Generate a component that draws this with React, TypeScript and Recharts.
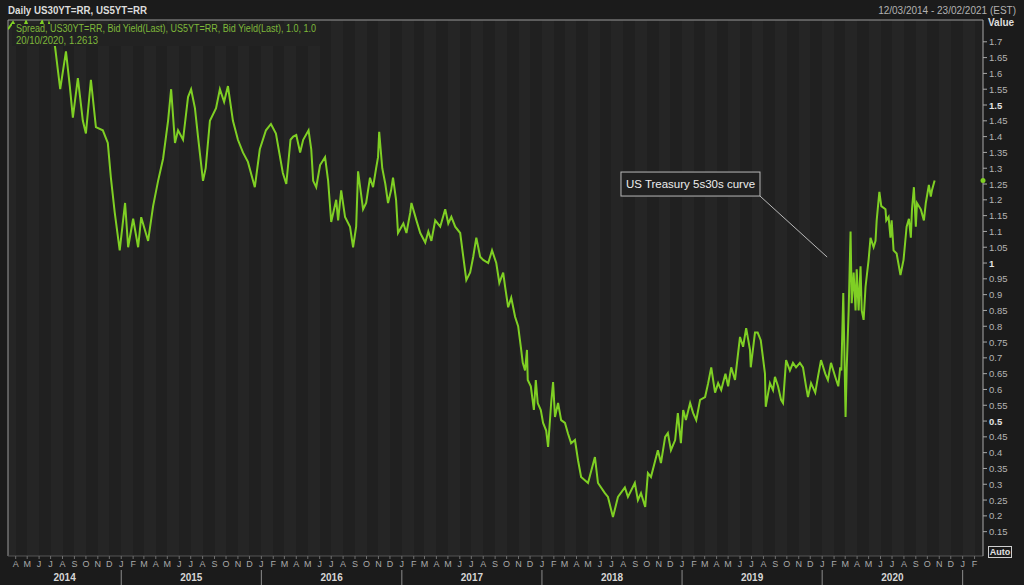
import { CartesianGrid, Line, LineChart, ReferenceDot, ReferenceLine, XAxis, YAxis } from 'recharts';

// US 30y - 5y spread (Bid Yield, Last)
const spread2014: [string, number][] = [
  ['2014-03-12', 1.74], ['2014-03-25', 1.762], ['2014-04-13', 1.72], ['2014-04-28', 1.764],
  ['2014-05-17', 1.71], ['2014-06-09', 1.765], ['2014-06-19', 1.72], ['2014-06-27', 1.758],
  ['2014-07-08', 1.72], ['2014-07-13', 1.68], ['2014-07-26', 1.55], ['2014-08-10', 1.67],
  ['2014-08-20', 1.56], ['2014-08-28', 1.46], ['2014-09-10', 1.585], ['2014-09-23', 1.45],
  ['2014-10-01', 1.41], ['2014-10-14', 1.58], ['2014-10-27', 1.43], ['2014-11-14', 1.42],
  ['2014-11-27', 1.38], ['2014-12-05', 1.27], ['2014-12-15', 1.16], ['2014-12-28', 1.04]
];

const spread2015: [string, number][] = [
  ['2015-01-11', 1.19], ['2015-01-19', 1.05], ['2015-02-01', 1.14], ['2015-02-14', 1.05],
  ['2015-02-22', 1.145], ['2015-03-12', 1.07], ['2015-03-25', 1.18], ['2015-04-07', 1.26],
  ['2015-04-20', 1.33], ['2015-05-03', 1.45], ['2015-05-11', 1.55], ['2015-05-21', 1.38],
  ['2015-05-29', 1.42], ['2015-06-11', 1.39], ['2015-06-24', 1.525], ['2015-07-02', 1.55],
  ['2015-07-12', 1.49], ['2015-07-20', 1.4], ['2015-08-02', 1.26], ['2015-08-09', 1.3],
  ['2015-08-20', 1.45], ['2015-09-05', 1.49], ['2015-09-15', 1.55], ['2015-09-26', 1.51],
  ['2015-10-06', 1.56], ['2015-10-19', 1.45], ['2015-11-01', 1.39], ['2015-11-14', 1.35],
  ['2015-11-27', 1.32], ['2015-12-15', 1.24], ['2015-12-28', 1.36]
];

const spread2016: [string, number][] = [
  ['2016-01-13', 1.42], ['2016-01-26', 1.44], ['2016-02-08', 1.41], ['2016-02-26', 1.285],
  ['2016-03-06', 1.25], ['2016-03-17', 1.39], ['2016-03-24', 1.4], ['2016-04-01', 1.405],
  ['2016-04-11', 1.35], ['2016-04-19', 1.39], ['2016-05-03', 1.42], ['2016-05-10', 1.36],
  ['2016-05-15', 1.26], ['2016-05-23', 1.24], ['2016-06-02', 1.31], ['2016-06-15', 1.335],
  ['2016-06-23', 1.26], ['2016-07-01', 1.13], ['2016-07-14', 1.2], ['2016-07-19', 1.135],
  ['2016-07-27', 1.23], ['2016-08-06', 1.146], ['2016-08-19', 1.115], ['2016-08-27', 1.05],
  ['2016-09-04', 1.115], ['2016-09-09', 1.29], ['2016-09-22', 1.17], ['2016-09-30', 1.19],
  ['2016-10-10', 1.27], ['2016-10-18', 1.24], ['2016-10-26', 1.3], ['2016-10-31', 1.335],
  ['2016-11-03', 1.415], ['2016-11-11', 1.3], ['2016-11-19', 1.25], ['2016-11-26', 1.19],
  ['2016-12-04', 1.23], ['2016-12-09', 1.27], ['2016-12-17', 1.2], ['2016-12-22', 1.095]
];

const spread2017: [string, number][] = [
  ['2017-01-05', 1.125], ['2017-01-13', 1.095], ['2017-01-23', 1.16], ['2017-01-26', 1.19],
  ['2017-02-08', 1.135], ['2017-02-18', 1.095], ['2017-03-03', 1.065], ['2017-03-11', 1.1],
  ['2017-03-19', 1.07], ['2017-03-29', 1.135], ['2017-04-11', 1.115], ['2017-04-24', 1.17],
  ['2017-05-02', 1.125], ['2017-05-10', 1.146], ['2017-05-20', 1.115], ['2017-06-02', 1.095],
  ['2017-06-10', 1.02], ['2017-06-18', 0.946], ['2017-06-28', 0.97], ['2017-07-06', 1.02],
  ['2017-07-14', 1.08], ['2017-07-24', 1.02], ['2017-08-01', 1.01], ['2017-08-14', 1.0],
  ['2017-08-24', 1.04], ['2017-09-04', 1.0], ['2017-09-12', 0.937], ['2017-09-22', 0.97],
  ['2017-09-27', 0.925], ['2017-10-05', 0.86], ['2017-10-13', 0.89], ['2017-10-23', 0.83],
  ['2017-10-31', 0.8], ['2017-11-07', 0.735], ['2017-11-12', 0.684], ['2017-11-18', 0.66],
  ['2017-11-23', 0.725], ['2017-11-25', 0.63], ['2017-12-03', 0.61], ['2017-12-11', 0.535],
  ['2017-12-16', 0.63], ['2017-12-21', 0.557], ['2017-12-29', 0.535]
];

const spread2018: [string, number][] = [
  ['2018-01-04', 0.494], ['2018-01-12', 0.47], ['2018-01-17', 0.418], ['2018-01-25', 0.557],
  ['2018-01-30', 0.623], ['2018-02-04', 0.513], ['2018-02-12', 0.557], ['2018-02-20', 0.503],
  ['2018-03-02', 0.494], ['2018-03-10', 0.46], ['2018-03-18', 0.43], ['2018-03-28', 0.44],
  ['2018-04-05', 0.376], ['2018-04-13', 0.323], ['2018-05-01', 0.304], ['2018-05-19', 0.386],
  ['2018-05-27', 0.304], ['2018-06-14', 0.272], ['2018-06-22', 0.26], ['2018-07-05', 0.196],
  ['2018-07-18', 0.26], ['2018-08-05', 0.29], ['2018-08-13', 0.26], ['2018-08-31', 0.304],
  ['2018-09-08', 0.25], ['2018-09-16', 0.272], ['2018-09-27', 0.228], ['2018-10-04', 0.335],
  ['2018-10-12', 0.323], ['2018-10-30', 0.408], ['2018-11-07', 0.367], ['2018-11-18', 0.45],
  ['2018-11-25', 0.462], ['2018-12-03', 0.408], ['2018-12-14', 0.44], ['2018-12-21', 0.525],
  ['2018-12-29', 0.43]
];

const spread2019: [string, number][] = [
  ['2019-01-04', 0.535], ['2019-01-11', 0.503], ['2019-01-22', 0.557], ['2019-01-30', 0.525],
  ['2019-02-07', 0.503], ['2019-02-17', 0.567], ['2019-03-02', 0.576], ['2019-03-10', 0.62],
  ['2019-03-18', 0.67], ['2019-03-28', 0.59], ['2019-04-05', 0.62], ['2019-04-13', 0.598],
  ['2019-04-24', 0.65], ['2019-05-01', 0.61], ['2019-05-09', 0.67], ['2019-05-19', 0.63],
  ['2019-05-27', 0.715], ['2019-06-01', 0.766], ['2019-06-09', 0.735], ['2019-06-17', 0.794],
  ['2019-06-27', 0.725], ['2019-06-29', 0.67], ['2019-07-10', 0.78], ['2019-07-17', 0.78],
  ['2019-07-25', 0.756], ['2019-08-05', 0.65], ['2019-08-07', 0.545], ['2019-08-18', 0.62],
  ['2019-08-26', 0.598], ['2019-08-31', 0.64], ['2019-09-08', 0.61], ['2019-09-16', 0.567],
  ['2019-09-21', 0.557], ['2019-09-29', 0.693], ['2019-10-09', 0.66], ['2019-10-17', 0.684],
  ['2019-10-25', 0.67], ['2019-11-04', 0.684], ['2019-11-12', 0.67], ['2019-11-20', 0.61],
  ['2019-11-25', 0.576], ['2019-12-03', 0.62], ['2019-12-14', 0.59], ['2019-12-21', 0.64],
  ['2019-12-29', 0.693]
];

const spread2020: [string, number][] = [
  ['2020-01-09', 0.65], ['2020-01-16', 0.63], ['2020-01-24', 0.684], ['2020-02-04', 0.64],
  ['2020-02-12', 0.61], ['2020-02-17', 0.67], ['2020-02-20', 0.66], ['2020-02-25', 0.905],
  ['2020-03-02', 0.513], ['2020-03-05', 0.67], ['2020-03-10', 0.85], ['2020-03-15', 1.1],
  ['2020-03-18', 0.873], ['2020-03-23', 0.97], ['2020-03-28', 0.85], ['2020-03-31', 0.98],
  ['2020-04-05', 0.85], ['2020-04-10', 0.99], ['2020-04-13', 0.85], ['2020-04-18', 0.82],
  ['2020-04-23', 0.925], ['2020-05-01', 1.01], ['2020-05-06', 1.08], ['2020-05-14', 1.05],
  ['2020-05-19', 1.07], ['2020-05-22', 1.135], ['2020-05-29', 1.225], ['2020-06-03', 1.18],
  ['2020-06-14', 1.17], ['2020-06-16', 1.135], ['2020-06-22', 1.146], ['2020-06-27', 1.08],
  ['2020-06-30', 1.135], ['2020-07-05', 1.04], ['2020-07-13', 1.03], ['2020-07-23', 0.962],
  ['2020-07-31', 1.01], ['2020-08-08', 1.115], ['2020-08-14', 1.14], ['2020-08-19', 1.08],
  ['2020-08-22', 1.17], ['2020-08-27', 1.24], ['2020-09-01', 1.115], ['2020-09-04', 1.19],
  ['2020-09-14', 1.17], ['2020-09-22', 1.135], ['2020-09-27', 1.19], ['2020-10-05', 1.247],
  ['2020-10-10', 1.21], ['2020-10-13', 1.23], ['2020-10-20', 1.2613]
];

const monthLetters = ['J', 'F', 'M', 'A', 'M', 'J', 'J', 'A', 'S', 'O', 'N', 'D'];
const chartYears = [2014, 2015, 2016, 2017, 2018, 2019, 2020];
const valueTicks = [
  0.15, 0.2, 0.25, 0.3, 0.35, 0.4, 0.45, 0.5, 0.55, 0.6, 0.65, 0.7, 0.75, 0.8, 0.85, 0.9, 0.95,
  1, 1.05, 1.1, 1.15, 1.2, 1.25, 1.3, 1.35, 1.4, 1.45, 1.5, 1.55, 1.6, 1.65, 1.7
];
const boldValueTicks = [0.5, 1, 1.5];

const rangeStart = Date.UTC(2014, 2, 12);
const rangeEnd = Date.UTC(2021, 1, 23);
const valueMin = 0.073;
const valueMax = 1.769;

const lastValue = 1.2613;
const calloutAnchor = { date: '2019-07-23', value: 1.212 };
const calloutTarget = { date: '2020-01-14', value: 1.019 };

const data = [...spread2014, ...spread2015, ...spread2016, ...spread2017, ...spread2018, ...spread2019, ...spread2020].map(
  ([date, value]) => ({ t: Date.parse(date), v: value })
);

const monthTicks: number[] = [];
for (let y = 2014; y <= 2021; y++) {
  for (let m = 0; m < 12; m++) {
    const t = Date.UTC(y, m, 1);
    if (t >= rangeStart && t <= rangeEnd) monthTicks.push(t);
  }
}

const yearTicks = chartYears.map(
  (y) => (Math.max(Date.UTC(y, 0, 1), rangeStart) + Math.min(Date.UTC(y + 1, 0, 1), rangeEnd)) / 2
);

const FONT = '"Liberation Sans", Arial, sans-serif';
const LINE_GREEN = '#7fcf24';

function MonthTick({ x, y, payload }: any) {
  const m = new Date(payload.value).getUTCMonth();
  return (
    <g>
      <line x1={x} x2={x} y1={y} y2={y + 3} stroke="#707070" />
      <text x={x} y={y + 11} textAnchor="middle" fill="#a9a9a9" fontSize={9} fontFamily={FONT}>
        {monthLetters[m]}
      </text>
      {m === 0 && <line x1={x} x2={x} y1={y + 14} y2={y + 29} stroke="#8c8c8c" />}
    </g>
  );
}

function YearTick({ x, y, payload }: any) {
  const yr = new Date(payload.value).getUTCFullYear();
  return (
    <text x={x} y={y + 11} textAnchor="middle" fill="#d6d6d6" fontSize={10} fontWeight="bold" fontFamily={FONT}>
      {yr}
    </text>
  );
}

function ValueTick({ x, y, payload }: any) {
  const v = Number(payload.value.toFixed(2));
  return (
    <text
      x={x}
      y={y + 3.5}
      textAnchor="start"
      fill={boldValueTicks.includes(v) ? '#e2e2e2' : '#b4b4b4'}
      fontSize={9.5}
      fontWeight={boldValueTicks.includes(v) ? 'bold' : 'normal'}
      fontFamily={FONT}
    >
      {String(v)}
    </text>
  );
}

function CalloutBox({ cx, cy }: any) {
  return (
    <g>
      <rect x={cx - 139} y={cy - 24} width={139} height={24} fill="#202020" stroke="#b8b8b8" />
      <text x={cx - 69.5} y={cy - 8} textAnchor="middle" fill="#ededed" fontSize={11.5} fontFamily={FONT}>
        US Treasury 5s30s curve
      </text>
    </g>
  );
}

export default function App() {
  return (
    <div style={{ position: 'fixed', left: 0, top: 0, width: 1024, height: 585, background: '#1b1b1b', overflow: 'hidden' }}>
      <LineChart width={1024} height={585} data={data} margin={{ top: 20, right: 0, bottom: 0, left: 8 }}>
        <CartesianGrid horizontal={false} vertical stroke="none" fill="#222222" verticalFill={['#252525', '#202020']} />
        <XAxis
          dataKey="t"
          type="number"
          domain={[rangeStart, rangeEnd]}
          allowDataOverflow
          ticks={monthTicks}
          interval={0}
          height={14}
          tickSize={0}
          tickMargin={0}
          tick={<MonthTick />}
          axisLine={{ stroke: '#555555' }}
          tickLine={false}
        />
        <XAxis
          xAxisId="years"
          dataKey="t"
          type="number"
          domain={[rangeStart, rangeEnd]}
          allowDataOverflow
          ticks={yearTicks}
          interval={0}
          height={15}
          tickSize={0}
          tickMargin={0}
          tick={<YearTick />}
          axisLine={false}
          tickLine={false}
        />
        <YAxis
          orientation="right"
          width={41}
          type="number"
          domain={[valueMin, valueMax]}
          allowDataOverflow
          ticks={valueTicks}
          interval={0}
          tickSize={4}
          tick={<ValueTick />}
          axisLine={{ stroke: '#a8a8a8' }}
          tickLine={{ stroke: '#a8a8a8' }}
        />
        <ReferenceLine y={valueMax} stroke="#9a9a9a" />
        <ReferenceLine x={rangeStart} stroke="#9a9a9a" />
        <Line
          dataKey="v"
          type="linear"
          stroke={LINE_GREEN}
          strokeWidth={2}
          dot={false}
          activeDot={false}
          isAnimationActive={false}
        />
        <ReferenceLine
          segment={[
            { x: Date.parse(calloutAnchor.date), y: calloutAnchor.value },
            { x: Date.parse(calloutTarget.date), y: calloutTarget.value }
          ]}
          stroke="#b8b8b8"
        />
        <ReferenceDot
          x={Date.parse(calloutAnchor.date)}
          y={calloutAnchor.value}
          ifOverflow="visible"
          shape={CalloutBox}
        />
        <ReferenceDot x={rangeEnd} y={lastValue} r={2.5} fill={LINE_GREEN} stroke="none" ifOverflow="visible" />
      </LineChart>
      <svg width={1024} height={585} style={{ position: 'absolute', left: 0, top: 0, pointerEvents: 'none' }}>
        <text x={8} y={14} fill="#dcdcdc" fontSize={10.5} fontWeight="bold" fontFamily={FONT} textLength={139} lengthAdjust="spacingAndGlyphs">
          Daily US30YT=RR, US5YT=RR
        </text>
        <text x={1016} y={14} textAnchor="end" fill="#b2b2b2" fontSize={10} fontFamily={FONT}>
          12/03/2014 - 23/02/2021 (EST)
        </text>
        <rect x={12} y={24} width={308} height={22} fill="#222222" />
        <text x={16} y={32} fill="#7fb83a" fontSize={10} fontFamily={FONT} textLength={300} lengthAdjust="spacingAndGlyphs">
          Spread, US30YT=RR, Bid Yield(Last), US5YT=RR, Bid Yield(Last),  1.0, 1.0
        </text>
        <text x={16} y={44} fill="#7fb83a" fontSize={10} fontFamily={FONT} textLength={82} lengthAdjust="spacingAndGlyphs">
          20/10/2020, 1.2613
        </text>
        <text x={988} y={26} fill="#dedede" fontSize={10} fontWeight="bold" fontFamily={FONT}>
          Value
        </text>
        <rect x={988.5} y={546.5} width={23} height={11} fill="#1b1b1b" stroke="#cfcfcf" />
        <text x={1000} y={555} textAnchor="middle" fill="#e0e0e0" fontSize={9} fontWeight="bold" fontFamily={FONT}>
          Auto
        </text>
      </svg>
    </div>
  );
}
